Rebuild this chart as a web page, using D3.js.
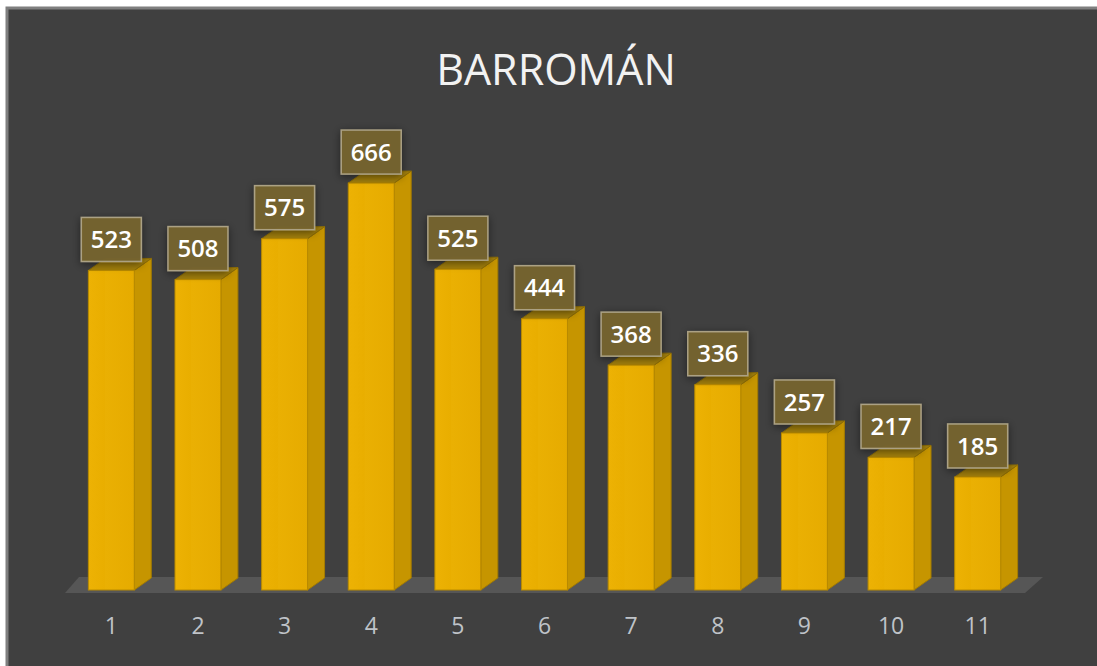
<!DOCTYPE html>
<html>
<head>
<meta charset="utf-8">
<script src="https://cdn.jsdelivr.net/npm/d3@7"></script>
<style>
  html, body { margin: 0; background: #fff; overflow: hidden; }
  svg { display: block; }
</style>
</head>
<body>
<div id="chart"></div>
<script>
// chart data
var categories = ["1", "2", "3", "4", "5", "6", "7", "8", "9", "10", "11"];
var values = [523, 508, 575, 666, 525, 444, 368, 336, 257, 217, 185];
var title = "BARROMÁN";

var W = 1097, H = 666;
var depthX = 17, depthY = -12;

var svg = d3.select("#chart").append("svg")
    .attr("width", W)
    .attr("height", H);

var defs = svg.append("defs");

// soft shadow for the value boxes
var shadow = defs.append("filter").attr("id", "boxShadow")
    .attr("x", "-30%").attr("y", "-30%").attr("width", "160%").attr("height", "160%");
shadow.append("feGaussianBlur").attr("in", "SourceAlpha").attr("stdDeviation", 4);
shadow.append("feOffset").attr("dx", 0).attr("dy", 2).attr("result", "blur");
shadow.append("feComponentTransfer").append("feFuncA").attr("type", "linear").attr("slope", 0.5);
var merge = shadow.append("feMerge");
merge.append("feMergeNode");
merge.append("feMergeNode").attr("in", "SourceGraphic");

var frontGrad = defs.append("linearGradient").attr("id", "frontGrad")
    .attr("x1", "0").attr("x2", "1").attr("y1", "0").attr("y2", "0");
frontGrad.append("stop").attr("offset", "0%").attr("stop-color", "#EDB204");
frontGrad.append("stop").attr("offset", "35%").attr("stop-color", "#E9AE00");
frontGrad.append("stop").attr("offset", "36%").attr("stop-color", "#EAB003");
frontGrad.append("stop").attr("offset", "100%").attr("stop-color", "#E6AB00");

// background panel (runs off the right and bottom edges)
svg.append("rect")
    .attr("x", 7).attr("y", 8)
    .attr("width", W + 20).attr("height", H + 20)
    .attr("fill", "#404040")
    .attr("stroke", "#7f7f7f")
    .attr("stroke-width", 3);

// title
svg.append("text")
    .attr("x", 556)
    .attr("y", 85)
    .attr("text-anchor", "middle")
    .attr("font-family", "'Open Sans', sans-serif")
    .attr("font-size", 43)
    .attr("fill", "#f2f2f2")
    .text(title);

var x = d3.scaleBand()
    .domain(categories)
    .range([68, 1021])
    .paddingInner(0.47)
    .paddingOuter(0.235);

var y = d3.scaleLinear()
    .domain([0, 700])
    .range([590, 590 - 700 * 0.611]);

// floor
var floorL = x.range()[0] - 3, floorR = x.range()[1] + 4;
svg.append("path")
    .attr("d", "M" + floorL + "," + (y(0) + 3) +
               "L" + (floorL + 14) + "," + (y(0) - 13) +
               "L" + (floorR + 18) + "," + (y(0) - 13) +
               "L" + floorR + "," + (y(0) + 3) + "Z")
    .attr("fill", "#565656");

// bars
var bars = svg.selectAll(".bar")
    .data(values)
    .enter().append("g")
    .attr("class", "bar");

bars.append("path") // side face
    .attr("d", function (d, i) {
        var x1 = x(categories[i]) + x.bandwidth();
        return "M" + x1 + "," + y(0) + "L" + (x1 + depthX) + "," + (y(0) + depthY) +
               "L" + (x1 + depthX) + "," + (y(d) + depthY) + "L" + x1 + "," + y(d) + "Z";
    })
    .attr("fill", "#C69500")
    .attr("stroke", "#A57C00")
    .attr("stroke-width", 1);

bars.append("path") // top face
    .attr("d", function (d, i) {
        var x0 = x(categories[i]), x1 = x0 + x.bandwidth();
        return "M" + x0 + "," + y(d) + "L" + (x0 + depthX) + "," + (y(d) + depthY) +
               "L" + (x1 + depthX) + "," + (y(d) + depthY) + "L" + x1 + "," + y(d) + "Z";
    })
    .attr("fill", "#A27F0C")
    .attr("stroke", "#8E6E06")
    .attr("stroke-width", 1);

bars.append("rect") // front face
    .attr("x", function (d, i) { return x(categories[i]); })
    .attr("y", function (d) { return y(d); })
    .attr("width", x.bandwidth())
    .attr("height", function (d) { return y(0) - y(d); })
    .attr("fill", "url(#frontGrad)")
    .attr("stroke", "#B88A00")
    .attr("stroke-width", 1);

// value labels
var boxW = 60, boxH = 44;
var labels = svg.selectAll(".vlabel")
    .data(values)
    .enter().append("g")
    .attr("class", "vlabel")
    .attr("transform", function (d, i) {
        return "translate(" + (x(categories[i]) + x.bandwidth() / 2) + "," + (y(d) - 31) + ")";
    });

labels.append("rect")
    .attr("x", -boxW / 2).attr("y", -boxH / 2)
    .attr("width", boxW).attr("height", boxH)
    .attr("fill", "#76632D")
    .attr("fill-opacity", 0.97)
    .attr("stroke", "#ABA184")
    .attr("stroke-width", 1.5)
    .attr("filter", "url(#boxShadow)");

labels.append("text")
    .attr("text-anchor", "middle")
    .attr("dy", "0.36em")
    .attr("font-family", "'Open Sans', sans-serif")
    .attr("font-weight", 600)
    .attr("font-size", 24)
    .attr("fill", "#ffffff")
    .text(function (d) { return d; });

// category axis
var axis = d3.axisBottom(x).tickSize(0).tickPadding(0);
var axisG = svg.append("g")
    .attr("transform", "translate(0,618)")
    .call(axis);
axisG.select(".domain").remove();
axisG.selectAll("text")
    .attr("font-family", "'Open Sans', sans-serif")
    .attr("font-size", 23)
    .attr("fill", "#BFC3C8");
</script>
</body>
</html>
